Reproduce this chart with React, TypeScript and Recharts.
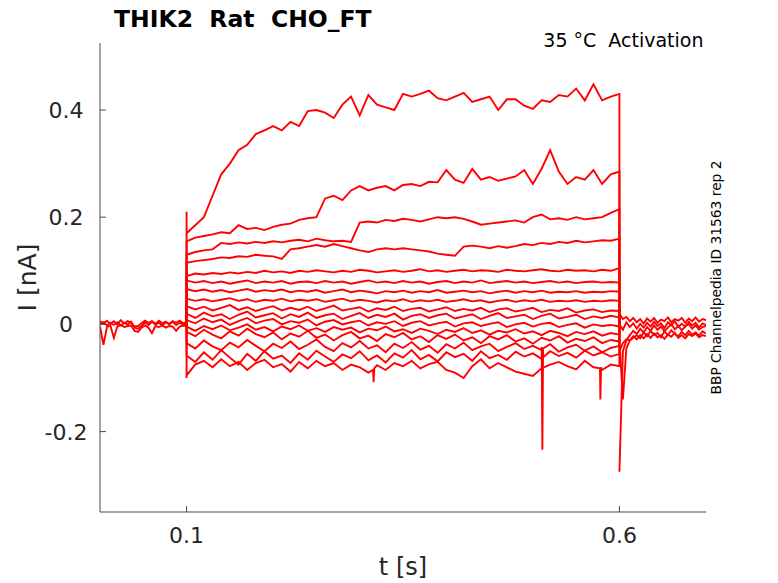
import React from 'react';
import { LineChart, Line, XAxis, YAxis } from 'recharts';

// ---- time bases (s) ----
const baseTimes = [0, 0.004, 0.008, 0.012, 0.016, 0.02, 0.024, 0.028, 0.032, 0.036, 0.04, 0.044, 0.048, 0.052, 0.056, 0.06, 0.064, 0.068, 0.072, 0.076, 0.08, 0.084, 0.088, 0.092, 0.096, 0.1];
const stepTimes = [0.1, 0.11, 0.12, 0.13, 0.14, 0.15, 0.16, 0.17, 0.18, 0.19, 0.2, 0.21, 0.22, 0.23, 0.24, 0.25, 0.26, 0.27, 0.28, 0.29, 0.3, 0.31, 0.32, 0.33, 0.34, 0.35, 0.36, 0.37, 0.38, 0.39, 0.4, 0.41, 0.42, 0.43, 0.44, 0.45, 0.46, 0.47, 0.48, 0.49, 0.5, 0.51, 0.52, 0.53, 0.54, 0.55, 0.56, 0.57, 0.58, 0.59, 0.6];
const tailTimes = [0.6, 0.604, 0.608, 0.612, 0.616, 0.62, 0.624, 0.628, 0.632, 0.636, 0.64, 0.644, 0.648, 0.652, 0.656, 0.66, 0.664, 0.668, 0.672, 0.676, 0.68, 0.684, 0.688, 0.692, 0.696, 0.7];

// ---- holding current before the step (nA) ----
const baseA = [0, 0.004, -0.002, 0.003, -0.001, 0.004, -0.002, 0.003, 0, 0.005, -0.006, -0.008, -0.003, 0.004, -0.001, 0.005, 0, 0.003, -0.002, 0.004, 0.001, 0.005, -0.001, 0.003, 0, 0];
const baseB = [-0.004, -0.038, -0.005, -0.002, -0.025, -0.004, -0.001, -0.005, -0.003, -0.002, -0.012, -0.014, -0.006, -0.002, -0.006, -0.016, -0.003, -0.005, -0.002, -0.006, -0.003, -0.004, -0.012, -0.004, -0.002, -0.003];
const baseC = [0.006, 0.002, 0.007, 0.001, 0.006, 0, 0.008, 0.002, 0.006, 0.003, -0.004, -0.003, 0.002, 0.007, 0.003, 0.006, 0.001, 0.007, 0.002, 0.005, 0, 0.006, 0.003, 0.007, 0.002, 0.004];

// ---- currents during the voltage steps (nA) ----
const sweep1 = [0.17, 0.185, 0.2, 0.24, 0.28, 0.3, 0.325, 0.335, 0.355, 0.362, 0.37, 0.362, 0.378, 0.37, 0.398, 0.4, 0.395, 0.385, 0.41, 0.425, 0.39, 0.428, 0.41, 0.405, 0.4, 0.43, 0.425, 0.43, 0.436, 0.422, 0.418, 0.425, 0.432, 0.415, 0.42, 0.425, 0.4, 0.42, 0.42, 0.408, 0.402, 0.418, 0.415, 0.428, 0.425, 0.44, 0.418, 0.448, 0.418, 0.425, 0.43];
const sweep2 = [0.155, 0.162, 0.165, 0.168, 0.172, 0.17, 0.185, 0.178, 0.18, 0.176, 0.182, 0.186, 0.188, 0.195, 0.198, 0.2, 0.235, 0.24, 0.232, 0.25, 0.258, 0.25, 0.255, 0.258, 0.25, 0.26, 0.262, 0.258, 0.266, 0.265, 0.288, 0.27, 0.264, 0.29, 0.27, 0.275, 0.268, 0.272, 0.276, 0.288, 0.262, 0.29, 0.325, 0.285, 0.262, 0.275, 0.27, 0.288, 0.262, 0.28, 0.285];
const sweep3 = [0.13, 0.135, 0.138, 0.14, 0.152, 0.15, 0.153, 0.151, 0.154, 0.152, 0.155, 0.153, 0.156, 0.158, 0.155, 0.16, 0.157, 0.155, 0.156, 0.154, 0.19, 0.192, 0.19, 0.195, 0.193, 0.197, 0.195, 0.192, 0.196, 0.2, 0.198, 0.2, 0.197, 0.192, 0.186, 0.188, 0.19, 0.192, 0.194, 0.19, 0.2, 0.205, 0.196, 0.198, 0.195, 0.2, 0.196, 0.198, 0.2, 0.208, 0.215];
const sweep4 = [0.115, 0.118, 0.12, 0.122, 0.125, 0.124, 0.127, 0.126, 0.13, 0.128, 0.127, 0.122, 0.14, 0.142, 0.145, 0.148, 0.145, 0.15, 0.146, 0.142, 0.138, 0.135, 0.14, 0.142, 0.14, 0.142, 0.14, 0.138, 0.136, 0.132, 0.13, 0.128, 0.145, 0.147, 0.145, 0.142, 0.146, 0.143, 0.146, 0.15, 0.148, 0.152, 0.15, 0.154, 0.152, 0.156, 0.153, 0.155, 0.157, 0.156, 0.16];
const sweep5 = [0.09, 0.095, 0.093, 0.096, 0.094, 0.097, 0.095, 0.098, 0.096, 0.1, 0.097, 0.099, 0.096, 0.1, 0.098, 0.101, 0.099, 0.097, 0.1, 0.098, 0.102, 0.1, 0.097, 0.099, 0.101, 0.098, 0.1, 0.103, 0.099, 0.101, 0.098, 0.1, 0.102, 0.099, 0.101, 0.1, 0.098, 0.102, 0.1, 0.099, 0.101, 0.103, 0.1, 0.099, 0.102, 0.1, 0.101, 0.099, 0.102, 0.1, 0.105];
const sweep6 = [0.082, 0.078, 0.081, 0.077, 0.08, 0.076, 0.079, 0.082, 0.077, 0.08, 0.078, 0.081, 0.076, 0.079, 0.08, 0.077, 0.081, 0.078, 0.08, 0.076, 0.079, 0.082, 0.078, 0.08, 0.077, 0.081, 0.078, 0.08, 0.076, 0.079, 0.081, 0.077, 0.08, 0.078, 0.082, 0.077, 0.079, 0.081, 0.078, 0.08, 0.077, 0.079, 0.081, 0.078, 0.08, 0.077, 0.079, 0.08, 0.078, 0.079, 0.078];
const sweep7 = [0.066, 0.062, 0.065, 0.061, 0.064, 0.06, 0.063, 0.066, 0.061, 0.064, 0.062, 0.065, 0.06, 0.063, 0.061, 0.064, 0.059, 0.062, 0.065, 0.06, 0.063, 0.061, 0.058, 0.062, 0.06, 0.063, 0.059, 0.062, 0.06, 0.064, 0.059, 0.061, 0.063, 0.06, 0.062, 0.058, 0.061, 0.063, 0.059, 0.062, 0.06, 0.063, 0.059, 0.061, 0.06, 0.062, 0.059, 0.061, 0.06, 0.062, 0.061];
const sweep8 = [0.048, 0.044, 0.047, 0.043, 0.046, 0.049, 0.044, 0.047, 0.042, 0.046, 0.044, 0.048, 0.043, 0.046, 0.044, 0.047, 0.042, 0.045, 0.048, 0.043, 0.046, 0.044, 0.041, 0.045, 0.043, 0.047, 0.042, 0.045, 0.043, 0.046, 0.042, 0.044, 0.047, 0.043, 0.045, 0.041, 0.044, 0.046, 0.042, 0.045, 0.043, 0.046, 0.042, 0.044, 0.043, 0.045, 0.042, 0.044, 0.043, 0.045, 0.044];
const sweep9 = [0.034, 0.028, 0.033, 0.026, 0.031, 0.036, 0.027, 0.032, 0.025, 0.03, 0.034, 0.026, 0.031, 0.027, 0.033, 0.025, 0.03, 0.035, 0.026, 0.029, 0.032, 0.024, 0.03, 0.027, 0.033, 0.025, 0.029, 0.031, 0.024, 0.028, 0.032, 0.025, 0.029, 0.026, 0.031, 0.023, 0.028, 0.03, 0.024, 0.027, 0.031, 0.023, 0.027, 0.025, 0.03, 0.022, 0.026, 0.028, 0.023, 0.026, 0.025];
const sweep10 = [0.02, 0.012, 0.022, 0.015, 0.019, 0.01, 0.018, 0.024, 0.013, 0.017, 0.021, 0.011, 0.019, 0.014, 0.022, 0.012, 0.017, 0.02, 0.01, 0.016, 0.021, 0.012, 0.018, 0.014, 0.02, 0.009, 0.016, 0.019, 0.012, 0.017, 0.02, 0.011, 0.015, 0.019, 0.01, 0.016, 0.021, 0.012, 0.015, 0.018, 0.01, 0.016, 0.02, 0.011, 0.014, 0.018, 0.01, 0.015, 0.012, 0.016, 0.013];
const sweep11 = [0.008, 0.002, 0.011, 0.004, 0.009, -0.001, 0.006, 0.012, 0.002, 0.007, 0.01, 0, 0.006, 0.003, 0.009, -0.002, 0.005, 0.008, 0, 0.004, 0.007, -0.002, 0.004, 0.001, 0.006, -0.003, 0.003, 0.006, -0.002, 0.002, 0.005, -0.004, 0.002, 0.004, -0.003, 0.001, 0.004, -0.005, 0, 0.003, -0.004, 0.001, 0.003, -0.005, -0.001, 0.002, -0.006, 0, -0.003, -0.001, -0.004];
const sweep12 = [-0.004, -0.012, -0.003, -0.009, -0.002, -0.011, -0.006, 0, -0.01, -0.005, -0.013, -0.004, -0.009, -0.002, -0.012, -0.007, -0.014, -0.005, -0.01, -0.006, -0.015, -0.008, -0.011, -0.004, -0.013, -0.009, -0.016, -0.008, -0.012, -0.018, -0.01, -0.014, -0.007, -0.016, -0.011, -0.019, -0.012, -0.015, -0.009, -0.017, -0.013, -0.02, -0.012, -0.016, -0.022, -0.014, -0.018, -0.013, -0.021, -0.016, -0.019];
const sweep13 = [-0.014, -0.022, -0.01, -0.019, -0.026, -0.013, -0.021, -0.008, -0.018, -0.024, -0.015, -0.028, -0.017, -0.023, -0.012, -0.025, -0.019, -0.03, -0.02, -0.014, -0.026, -0.021, -0.031, -0.018, -0.024, -0.016, -0.028, -0.022, -0.033, -0.02, -0.027, -0.019, -0.03, -0.024, -0.035, -0.022, -0.028, -0.02, -0.032, -0.026, -0.036, -0.025, -0.03, -0.022, -0.034, -0.027, -0.031, -0.024, -0.035, -0.029, -0.032];
const sweep14 = [-0.035, -0.045, -0.03, -0.041, -0.048, -0.034, -0.043, -0.029, -0.04, -0.05, -0.036, -0.044, -0.032, -0.046, -0.038, -0.028, -0.042, -0.05, -0.035, -0.043, -0.031, -0.045, -0.039, -0.052, -0.036, -0.044, -0.033, -0.047, -0.04, -0.053, -0.037, -0.045, -0.034, -0.048, -0.041, -0.036, -0.05, -0.042, -0.035, -0.046, -0.04, -0.048, -0.037, -0.051, -0.043, -0.038, -0.049, -0.041, -0.052, -0.044, -0.04];
const sweep15 = [-0.058, -0.07, -0.052, -0.066, -0.048, -0.062, -0.075, -0.055, -0.068, -0.05, -0.064, -0.058, -0.072, -0.054, -0.066, -0.049, -0.06, -0.07, -0.056, -0.063, -0.05, -0.067, -0.058, -0.071, -0.054, -0.062, -0.048, -0.065, -0.057, -0.069, -0.052, -0.061, -0.055, -0.068, -0.05, -0.063, -0.057, -0.066, -0.051, -0.06, -0.054, -0.064, -0.05, -0.059, -0.053, -0.062, -0.049, -0.058, -0.052, -0.06, -0.055];
const sweep16 = [-0.095, -0.075, -0.068, -0.08, -0.065, -0.078, -0.07, -0.085, -0.072, -0.066, -0.08, -0.074, -0.088, -0.07, -0.082, -0.068, -0.078, -0.072, -0.085, -0.075, -0.08, -0.09, -0.076, -0.085, -0.072, -0.078, -0.068, -0.082, -0.074, -0.07, -0.085, -0.09, -0.1, -0.078, -0.065, -0.082, -0.072, -0.08, -0.088, -0.092, -0.096, -0.082, -0.075, -0.07, -0.078, -0.084, -0.068, -0.08, -0.085, -0.075, -0.078];

const sweeps = [sweep1, sweep2, sweep3, sweep4, sweep5, sweep6, sweep7, sweep8, sweep9, sweep10, sweep11, sweep12, sweep13, sweep14, sweep15, sweep16];

// capacitive peak at step onset (nA), per sweep
const onsetPeaks = [0.21, 0.155, 0.13, 0.115, 0.09, 0.082, 0.066, 0.048, 0.034, 0.02, 0.008, -0.004, -0.014, -0.035, -0.058, -0.1];

// brief spikes during the step: [sweep index, t, I]
const spikes: [number, number, number][] = [
  [13, 0.5102, -0.042], [13, 0.511, -0.234], [13, 0.5118, -0.045],
  [15, 0.3155, -0.085], [15, 0.316, -0.108], [15, 0.3168, -0.082],
  [15, 0.5775, -0.082], [15, 0.578, -0.14], [15, 0.5788, -0.08],
];

// ---- tail currents after the step (nA) ----
const tailA = [-0.275, -0.05, -0.03, -0.02, -0.012, -0.018, -0.008, -0.015, -0.005, -0.012, -0.002, -0.01, -0.004, -0.013, -0.006, 0, -0.009, -0.003, -0.011, -0.004, 0.001, -0.008, -0.002, -0.01, -0.005, -0.003];
const tailB = [-0.03, -0.14, -0.045, -0.03, -0.025, -0.02, -0.026, -0.015, -0.022, -0.012, -0.02, -0.016, -0.024, -0.013, -0.02, -0.011, -0.018, -0.022, -0.014, -0.02, -0.012, -0.019, -0.015, -0.021, -0.013, -0.017];
const tailC = [0.02, 0.01, 0.014, 0.006, 0.012, 0.004, 0.01, 0.002, 0.011, 0.005, 0.012, 0.003, 0.009, 0.006, 0.013, 0.004, 0.01, 0.007, 0.012, 0.003, 0.011, 0.006, 0.013, 0.005, 0.01, 0.008];
const tailD = [-0.05, -0.035, -0.028, -0.03, -0.022, -0.028, -0.02, -0.026, -0.018, -0.025, -0.017, -0.024, -0.02, -0.027, -0.019, -0.023, -0.016, -0.025, -0.02, -0.026, -0.018, -0.022, -0.017, -0.024, -0.02, -0.022];
const tailE = [0, -0.01, 0.004, -0.005, 0.002, -0.008, 0.001, -0.006, 0.003, -0.004, 0.005, -0.003, 0.002, -0.007, 0.004, -0.002, 0.006, -0.005, 0.001, -0.004, 0.005, -0.002, 0.003, -0.006, 0.002, -0.001];

const xTicks = [0.1, 0.6];
const yTicks = [-0.2, 0, 0.2, 0.4];

const TITLE = 'THIK2  Rat  CHO_FT';
const SUBTITLE = '35 °C  Activation';
const SIDE = 'BBP Channelpedia ID 31563 rep 2';

// ---- build series ----
type Pt = { t: number; v: number };
const zip = (ts: number[], vs: number[]): Pt[] => ts.map((t, i) => ({ t, v: vs[i] }));

const baseSeries = [baseA, baseB, baseC].map((vs) => zip(baseTimes, vs));
const tailSeries = [tailA, tailB, tailC, tailD, tailE].map((vs) => zip(tailTimes, vs));
const stepSeries = sweeps.map((vs, k) => {
  const pts = zip(stepTimes, vs);
  const extra = spikes.filter((s) => s[0] === k).map((s) => ({ t: s[1], v: s[2] }));
  const merged = [...pts, ...extra].sort((a, b) => a.t - b.t);
  return [{ t: 0.1, v: 0 }, { t: 0.1, v: onsetPeaks[k] }, ...merged, { t: 0.6, v: 0 }];
});
const allSeries = [...baseSeries, ...stepSeries, ...tailSeries];

const FONT = 'DejaVu Sans';
const TEXT = '#262626';
const AXIS = '#4a4a4a';
const RED = '#ff0000';

const PLOT_LEFT = 100;
const PLOT_BOTTOM = 512;

const YTick = (props: any) => {
  const { y, payload } = props;
  return (
    <g>
      <line x1={PLOT_LEFT} x2={PLOT_LEFT + 6} y1={y} y2={y} stroke={AXIS} strokeWidth={1} />
      <text x={66} y={y + 8} textAnchor="middle" fontFamily={FONT} fontSize={22} fill={TEXT}>
        {String(payload.value)}
      </text>
    </g>
  );
};

const XTick = (props: any) => {
  const { x, payload } = props;
  return (
    <g>
      <line x1={x} x2={x} y1={PLOT_BOTTOM} y2={PLOT_BOTTOM - 6} stroke={AXIS} strokeWidth={1} />
      <text x={x} y={543} textAnchor="middle" fontFamily={FONT} fontSize={22} fill={TEXT}>
        {String(payload.value)}
      </text>
    </g>
  );
};

export default function App() {
  return (
    <div style={{ position: 'absolute', left: 0, top: 0, width: 778, height: 583, background: '#fff' }}>
      <LineChart width={778} height={583} margin={{ top: 43, right: 72, bottom: 41, left: 40 }}>
        <XAxis
          type="number"
          dataKey="t"
          domain={[0, 0.7]}
          ticks={xTicks}
          allowDataOverflow
          height={30}
          axisLine={{ stroke: AXIS, strokeWidth: 1 }}
          tickLine={false}
          tickSize={0}
          tickMargin={0}
          tick={<XTick />}
        />
        <YAxis
          type="number"
          dataKey="v"
          domain={[-0.35, 0.525]}
          ticks={yTicks}
          allowDataOverflow
          width={60}
          axisLine={{ stroke: AXIS, strokeWidth: 1 }}
          tickLine={false}
          tickSize={0}
          tickMargin={0}
          tick={<YTick />}
        />
        {allSeries.map((d, i) => (
          <Line
            key={i}
            data={d}
            dataKey="v"
            type="linear"
            stroke={RED}
            strokeWidth={1.9}
            strokeLinejoin="miter"
            dot={false}
            activeDot={false}
            isAnimationActive={false}
          />
        ))}
      </LineChart>
      <svg
        width={778}
        height={583}
        style={{ position: 'absolute', left: 0, top: 0, pointerEvents: 'none' }}
      >
        <text x={114} y={27} fontFamily={FONT} fontWeight="bold" fontSize={23.5} fill="#000" style={{ whiteSpace: 'pre' }}>
          {TITLE}
        </text>
        <text x={703.5} y={47} textAnchor="end" fontFamily={FONT} fontSize={19} fill="#000" style={{ whiteSpace: 'pre' }}>
          {SUBTITLE}
        </text>
        <text
          x={0}
          y={0}
          transform="translate(721,277.5) rotate(-90)"
          textAnchor="middle"
          fontFamily={FONT}
          fontSize={13.8}
          fill="#000"
        >
          {SIDE}
        </text>
        <text x={403} y={575} textAnchor="middle" fontFamily={FONT} fontSize={24} fill={TEXT}>
          t [s]
        </text>
        <text
          x={0}
          y={0}
          transform="translate(36,277.5) rotate(-90)"
          textAnchor="middle"
          fontFamily={FONT}
          fontSize={25}
          fill={TEXT}
        >
          I [nA]
        </text>
      </svg>
    </div>
  );
}
